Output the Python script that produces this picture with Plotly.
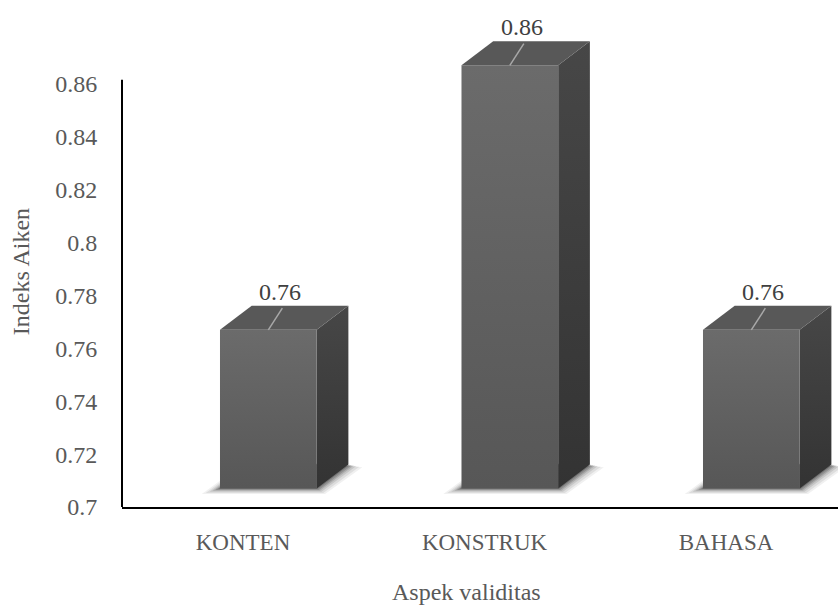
import plotly.graph_objects as go

# ---- data ----
categories = ["KONTEN", "KONSTRUK", "BAHASA"]
values = [0.76, 0.86, 0.76]
value_labels = ["0.76", "0.86", "0.76"]
y_tick_vals = [0.70, 0.72, 0.74, 0.76, 0.78, 0.80, 0.82, 0.84, 0.86]
y_tick_text = ["0.7", "0.72", "0.74", "0.76", "0.78", "0.8", "0.82", "0.84", "0.86"]
x_title = "Aspek validitas"
y_title = "Indeks Aiken"

# ---- layout geometry (style) ----
W, H = 838, 605
ML, MR, MT, MB = 122, 0, 0, 98
plot_w = W - ML - MR
plot_h = H - MT - MB
y_min = 0.70
PY = 2645.0                       # px per value unit
y_max = y_min + plot_h / PY
x_lo = -0.501
PX = 241.5                        # px per category unit
x_hi = x_lo + plot_w / PX

def dx(px):
    return px / PX

def dy(px):
    return px / PY

FL, FR = dx(-23), dx(73.7)        # front face left/right relative to category
DX, DY = dx(31.7), dy(24)         # oblique depth
LIFT = dy(18.5)                   # front bottom above axis floor

FONT = "Liberation Serif"
TXT = "#595959"

fig = go.Figure()

def poly(xs, ys, color=None, gradient=None, opacity=1.0):
    kw = dict(x=xs + [xs[0]], y=ys + [ys[0]], mode="lines", fill="toself",
              line=dict(width=0), hoverinfo="skip", showlegend=False, opacity=opacity)
    if gradient:
        kw["fillgradient"] = dict(type="vertical", colorscale=gradient)
        kw["fillcolor"] = gradient[-1][1]
    else:
        kw["fillcolor"] = color
    fig.add_trace(go.Scatter(**kw))

for i, (cat, v) in enumerate(zip(categories, values)):
    c = i
    B = y_min + LIFT
    T = v + LIFT
    # soft shadow under the box (layered, darker near the box)
    for e, a in [(14, 0.06), (11, 0.08), (8, 0.10), (5.5, 0.13), (3.5, 0.16), (1.5, 0.2)]:
        ex, ey = dx(e), dy(e)
        poly([c + FL - ex * 1.3, c + FR + ex * 0.6, c + FR + DX + ex, c + FL + DX],
             [B - ey * 0.4, B - ey * 0.4, B + DY - ey * 0.2, B + DY + ey * 0.5],
             color="rgba(0,0,0,%.3f)" % a)
    # side face
    poly([c + FR, c + FR + DX, c + FR + DX, c + FR],
         [B, B + DY, T + DY, T],
         gradient=[[0, "#333333"], [1, "#474747"]])
    # front face
    poly([c + FL, c + FR, c + FR, c + FL],
         [B, B, T, T],
         gradient=[[0, "#575757"], [1, "#6b6b6b"]])
    # top face
    poly([c + FL, c + FR, c + FR + DX, c + FL + DX],
         [T, T, T + DY, T + DY],
         color="#585858")
    # leader line
    mid = c + (FL + FR) / 2
    fig.add_trace(go.Scatter(x=[mid, mid + dx(14)], y=[T, T + DY * 0.9], mode="lines",
                             line=dict(color="#a8a8a8", width=1.5),
                             hoverinfo="skip", showlegend=False))
    # value label
    fig.add_annotation(x=mid + dx(12), y=T + DY, xref="x", yref="y",
                       text=value_labels[i], showarrow=False, yanchor="middle",
                       yshift=14, font=dict(family=FONT, size=24, color="#404040"))

# y axis line (only up to the top tick region)
fig.add_shape(type="line", xref="paper", yref="y", x0=0, x1=0,
              y0=y_min, y1=y_tick_vals[-1] + dy(4), line=dict(color="black", width=2))

fig.add_annotation(text=x_title, xref="paper", yref="paper",
                   x=(466.5 - ML) / plot_w, y=-(591.7 - (H - MB)) / plot_h,
                   showarrow=False, xanchor="center", yanchor="middle",
                   font=dict(family=FONT, size=24, color=TXT))
fig.add_annotation(text=y_title, xref="paper", yref="paper",
                   x=(20.7 - ML) / plot_w, y=((H - MB) - 271.5) / plot_h,
                   showarrow=False, xanchor="center", yanchor="middle", textangle=-90,
                   font=dict(family=FONT, size=24, color=TXT))

fig.update_layout(
    width=W, height=H,
    margin=dict(l=ML, r=MR, t=MT, b=MB),
    paper_bgcolor="white", plot_bgcolor="white",
    showlegend=False,
    xaxis=dict(range=[x_lo, x_hi], tickvals=list(range(len(categories))), ticktext=categories,
               showgrid=False, zeroline=False, showline=True, linecolor="black", linewidth=2,
               ticks="outside", ticklen=13, tickcolor="rgba(0,0,0,0)",
               tickfont=dict(family=FONT, size=23, color=TXT), fixedrange=True),
    yaxis=dict(range=[y_min, y_max], tickvals=y_tick_vals, ticktext=y_tick_text,
               showgrid=False, zeroline=False, showline=False,
               ticks="outside", ticklen=19, tickcolor="rgba(0,0,0,0)",
               tickfont=dict(family=FONT, size=24, color=TXT), fixedrange=True),
)

fig.write_html("out.html")
